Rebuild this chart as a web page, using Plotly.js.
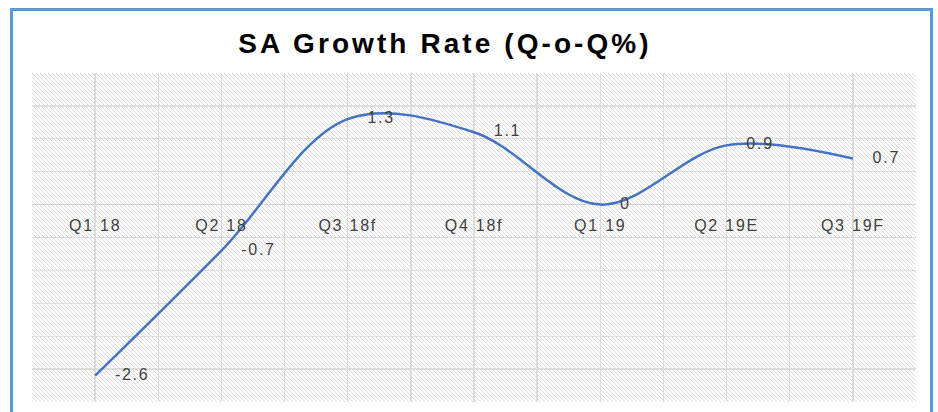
<!DOCTYPE html>
<html>
<head>
<meta charset="utf-8">
<script src="https://cdn.plot.ly/plotly-3.0.1.min.js"></script>
<style>
  html, body { margin: 0; padding: 0; background: #fff; }
  #wrap { position: relative; width: 938px; height: 412px; overflow: hidden; }
  #chart { position: absolute; left: 0; top: 0; width: 938px; height: 412px; }
  #frame { position: absolute; left: 10px; top: 8px; width: 917px; height: 500px;
           border: 3px solid #5B9BD5; pointer-events: none; }
  .main-svg text { letter-spacing: 0.11em; }
</style>
</head>
<body>
<div id="wrap">
  <div id="chart"></div>
  <div id="frame"></div>
</div>
<script>
// ---- data ----
const categories = ["Q1 18", "Q2 18", "Q3 18f", "Q4 18f", "Q1 19", "Q2 19E", "Q3 19F"];
const growthRate = [-2.6, -0.7, 1.3, 1.1, 0, 0.9, 0.7];
const chartTitle = "SA Growth Rate (Q-o-Q%)";

const xIndex = categories.map((c, i) => i);

const hatchSvg =
  "<svg xmlns='http://www.w3.org/2000/svg' width='884' height='329'>" +
  "<defs><pattern id='p' width='4' height='4' patternUnits='userSpaceOnUse'>" +
  "<path d='M-1,-1 L5,5 M-1,3 L1,5 M3,-1 L5,1' stroke='#d6d6d6' stroke-width='0.85'/>" +
  "</pattern></defs>" +
  "<rect width='100%' height='100%' fill='#ffffff'/>" +
  "<rect width='100%' height='100%' fill='url(#p)'/></svg>";
const hatchUri = "data:image/svg+xml;charset=utf-8," + encodeURIComponent(hatchSvg);

const trace = {
  x: xIndex,
  y: growthRate,
  type: "scatter",
  mode: "lines+markers+text",
  line: { color: "#4472C4", width: 2.5, shape: "spline", smoothing: 1 },
  marker: { size: 30, opacity: 0, color: "#4472C4" },
  text: growthRate.map(v => String(v)),
  textposition: "middle right",
  textfont: { family: "Liberation Sans, Arial, sans-serif", size: 16, color: "#404040" },
  hoverinfo: "skip",
  cliponaxis: false
};

const layout = {
  width: 938,
  height: 412,
  margin: { l: 32, r: 22, t: 73, b: 10 },
  paper_bgcolor: "rgba(0,0,0,0)",
  plot_bgcolor: "rgba(0,0,0,0)",
  showlegend: false,
  title: {
    text: chartTitle,
    font: { family: "Liberation Sans, Arial, sans-serif", size: 28, color: "#000000", weight: "bold" },
    xref: "container", yref: "container",
    x: 0.4744, xanchor: "center",
    y: 0.896, yanchor: "middle"
  },
  xaxis: {
    type: "linear",
    range: [-0.5, 6.5],
    tickmode: "array",
    tickvals: xIndex,
    ticktext: categories,
    ticks: "",
    showline: false,
    zeroline: false,
    showgrid: true,
    gridcolor: "#dcdcdc",
    gridwidth: 1.3,
    minor: { tickmode: "linear", tick0: 0.5, dtick: 1, showgrid: true, gridcolor: "#dcdcdc", gridwidth: 1.3, ticks: "" },
    anchor: "free",
    position: 0.6,
    ticklabelstandoff: 9,
    tickfont: { family: "Liberation Sans, Arial, sans-serif", size: 16, color: "#404040" },
    fixedrange: true
  },
  yaxis: {
    range: [-3, 2],
    dtick: 0.5,
    tick0: 0,
    showticklabels: false,
    ticks: "",
    showgrid: true,
    gridcolor: "#dcdcdc",
    gridwidth: 1.3,
    zeroline: true,
    zerolinecolor: "#d4d4d4",
    zerolinewidth: 1.5,
    fixedrange: true
  },
  images: [{
    source: hatchUri,
    xref: "paper", yref: "paper",
    x: 0, y: 1, sizex: 1, sizey: 1,
    xanchor: "left", yanchor: "top",
    sizing: "stretch",
    layer: "below"
  }]
};

Plotly.newPlot("chart", [trace], layout, { staticPlot: true, displayModeBar: false });
</script>
</body>
</html>
